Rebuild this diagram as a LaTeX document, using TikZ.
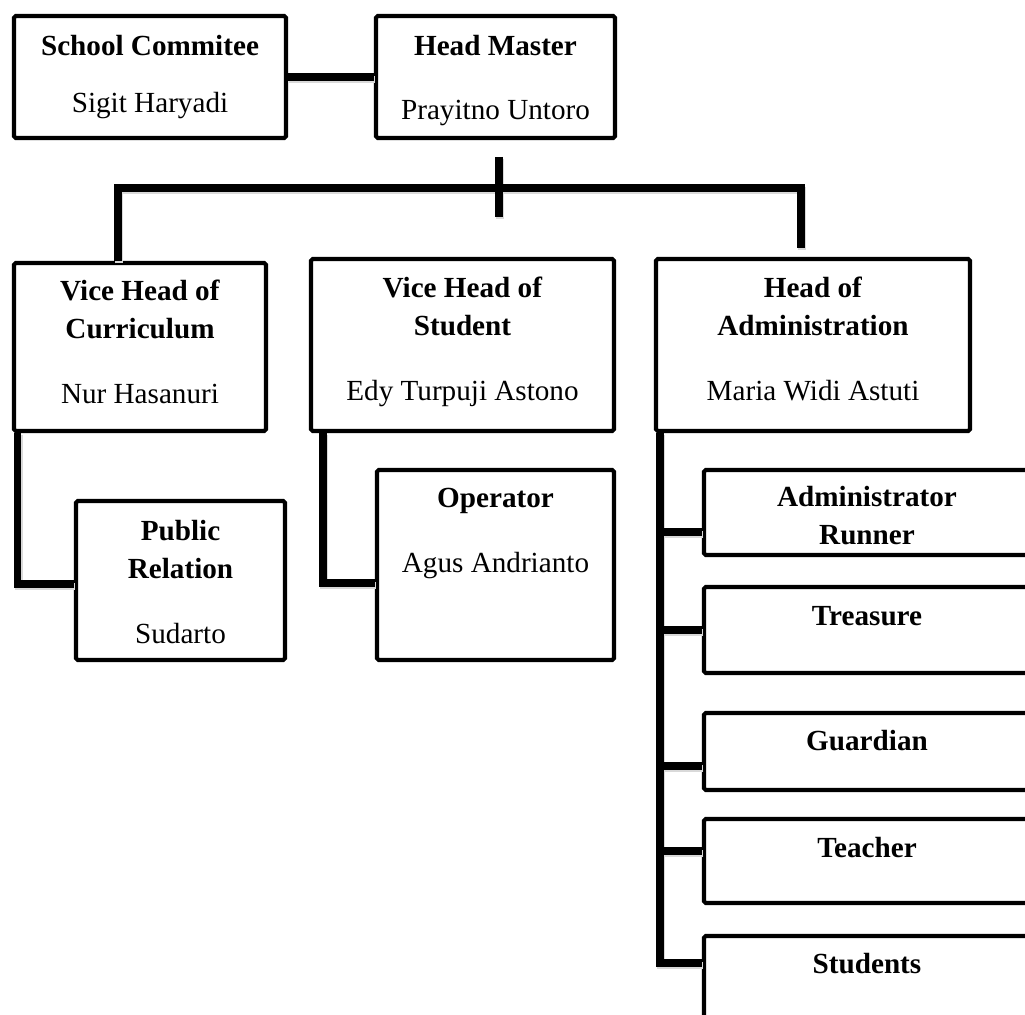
\documentclass[tikz,border=0pt]{standalone}
\usepackage{fontspec}
\setmainfont{Liberation Serif}

\begin{document}
\begin{tikzpicture}[
  box/.style={draw, line width=2.3pt, rounded corners=1pt, inner sep=0pt},
  txt/.style={anchor=base, align=center, inner sep=0pt, font=\fontsize{16.6}{21.6}\selectfont},
  link/.style={line width=4.5pt},
  shade/.style={line width=4.5pt, black!15, transform canvas={xshift=0.8pt, yshift=-1.4pt}}
]
\clip (0,0) rectangle (20.5,20.28);

% top row
\node[box, minimum width=5.44cm, minimum height=2.44cm] (com) at (3,18.74) {};
\node[txt] (comT) at (3,18.02) {\textbf{School Commitee}\\[0.4cm] Sigit Haryadi};
\node[box, minimum width=4.78cm, minimum height=2.44cm] (head) at (9.91,18.74) {};
\node[txt] (headT) at (9.91,17.88) {\textbf{Head Master}\\[0.54cm] Prayitno Untoro};

% vice heads
\node[box, minimum width=5.04cm, minimum height=3.36cm] (cur) at (2.8,13.34) {};
\node[txt] (curT) at (2.8,12.22) {\textbf{Vice Head of}\\\textbf{Curriculum}\\[0.54cm] Nur Hasanuri};
\node[box, minimum width=6.06cm, minimum height=3.44cm] (stu) at (9.25,13.38) {};
\node[txt] (stuT) at (9.25,12.28) {\textbf{Vice Head of}\\\textbf{Student}\\[0.54cm] Edy Turpuji Astono};
\node[box, minimum width=6.28cm, minimum height=3.44cm] (adm) at (16.26,13.38) {};
\node[txt] (admT) at (16.26,12.28) {\textbf{Head of}\\\textbf{Administration}\\[0.54cm] Maria Widi Astuti};

% staff
\node[box, minimum width=4.18cm, minimum height=3.18cm] (pr) at (3.61,8.67) {};
\node[txt] (prT) at (3.61,7.42) {\textbf{Public}\\\textbf{Relation}\\[0.54cm] Sudarto};
\node[box, minimum width=4.74cm, minimum height=3.8cm] (op) at (9.91,8.98) {};
\node[txt] (opT) at (9.91,8.84) {\textbf{Operator}\\[0.54cm] Agus Andrianto};

\node[box, minimum width=6.52cm, minimum height=1.7cm] (run) at (17.34,10.03) {};
\node[txt] (runT) at (17.34,9.40) {\textbf{Administrator}\\\textbf{Runner}};
\node[box, minimum width=6.52cm, minimum height=1.72cm] (tre) at (17.34,7.68) {};
\node[txt] (treT) at (17.34,7.78) {\textbf{Treasure}};
\node[box, minimum width=6.52cm, minimum height=1.54cm] (gua) at (17.34,5.25) {};
\node[txt] (guaT) at (17.34,5.28) {\textbf{Guardian}};
\node[box, minimum width=6.52cm, minimum height=1.68cm] (tea) at (17.34,3.06) {};
\node[txt] (teaT) at (17.34,3.14) {\textbf{Teacher}};
\node[box, minimum width=6.52cm, minimum height=1.84cm] (sts) at (17.34,0.64) {};
\node[txt] (stsT) at (17.34,0.82) {\textbf{Students}};

% lines, grey shadow first then black
\coordinate (stubT) at (9.98,17.14);
\coordinate (stubB) at (9.98,15.94);
\coordinate (busL) at (2.36,16.52);
\coordinate (busR) at (16.02,16.52);
\coordinate (drop) at (16.02,15.32);
\coordinate (trunk) at ([xshift=0.12cm]adm.south west);

\foreach \s in {shade, link} {
  \draw[\s] (com.east) -- (head.west);
  \draw[\s] (stubT) -- (stubB);
  \draw[\s] (busL |- cur.north) -- (busL) -- (busR) -- (drop);
  \draw[\s] ([xshift=0.11cm]cur.south west) |- ([yshift=-0.07cm]pr.west);
  \draw[\s] ([xshift=0.28cm]stu.south west) |- ([yshift=-0.36cm]op.west);
  \draw[\s] (trunk) |- ([yshift=0.38cm]sts.west);
  \foreach \b/\dy in {run/-0.39, tre/0, gua/-0.29, tea/0.2}
    \draw[\s] ([yshift=\dy cm]\b.west) -| (trunk);
}

\end{tikzpicture}
\end{document}
